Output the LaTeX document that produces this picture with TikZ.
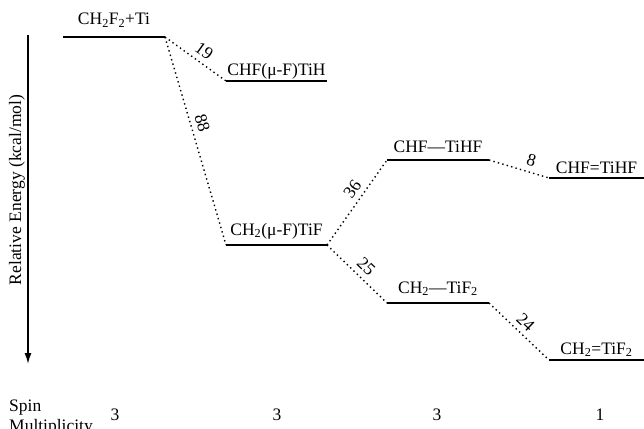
\documentclass[tikz,border=0pt]{standalone}
\usepackage{fontspec}
\setmainfont{Liberation Serif}
\usetikzlibrary{arrows.meta, positioning, calc}

\tikzset{
  lvl/.style={line width=1.5pt},
  conn/.style={line width=1.4pt, dash pattern=on 1.4pt off 3.2pt},
  lbl/.style={anchor=base, inner sep=0pt},
  num/.style={sloped, above, inner sep=5pt},
}

\begin{document}
\begin{tikzpicture}[x=1pt, y=-1pt, font=\fontsize{17.5}{20}\selectfont]
\useasboundingbox (0,0) rectangle (644,428);
% Energy levels: name / left / right / height / label gap / label
\foreach \n/\xa/\xb/\y/\g/\txt in {
    r/63/165/37/12/{CH\textsubscript{2}F\textsubscript{2}+Ti},
    a/226/327/81/6/{CHF(μ-F)TiH},
    b/226/327/245/10/{CH\textsubscript{2}(μ-F)TiF},
    c/387/489/160/8/{CHF—TiHF},
    d/549/644/178/5/{CHF=TiHF},
    e/387/489/303/10/{CH\textsubscript{2}—TiF\textsubscript{2}},
    f/549/644/360/6/{CH\textsubscript{2}=TiF\textsubscript{2}}} {
    \coordinate (\n-l) at (\xa,\y);
    \coordinate (\n-r) at (\xb,\y);
    \draw[lvl] (\n-l) -- (\n-r);
    \node[lbl] (\n-t) at ($(\n-l)!0.5!(\n-r)+(0,-\g)$) {\txt};
}
% Reaction paths
\draw[conn] (r-r) -- node[num, pos=0.53] {19} (a-l);
\draw[conn] (r-r) -- node[num, pos=0.43] {88} (b-l);
\draw[conn] (b-r) -- node[num, pos=0.58] {36} (c-l);
\draw[conn] (c-r) -- node[num, pos=0.65] {8} (d-l);
\draw[conn] (b-r) -- node[num, pos=0.52] {25} (e-l);
\draw[conn] (e-r) -- node[num, pos=0.48] {24} (f-l);
% Energy axis
\coordinate (ax-top) at (28,35);
\coordinate (ax-bot) at (28,364);
\draw[line width=1.5pt, -{Latex[length=11pt, width=7pt]}] (ax-top) -- (ax-bot);
\node[rotate=90] (ax-lbl) at (17,190) {Relative Energy (kcal/mol)};
% Spin multiplicities
\node[anchor=base west, align=left, inner sep=0pt] (spin) at (9,431) {Spin\\Multiplicity};
\foreach \n/\x/\s in {r/115/3, b/277/3, e/437/3, f/600/1} {
    \node (m-\n) at (\x,415) {\s};
}
\end{tikzpicture}
\end{document}
